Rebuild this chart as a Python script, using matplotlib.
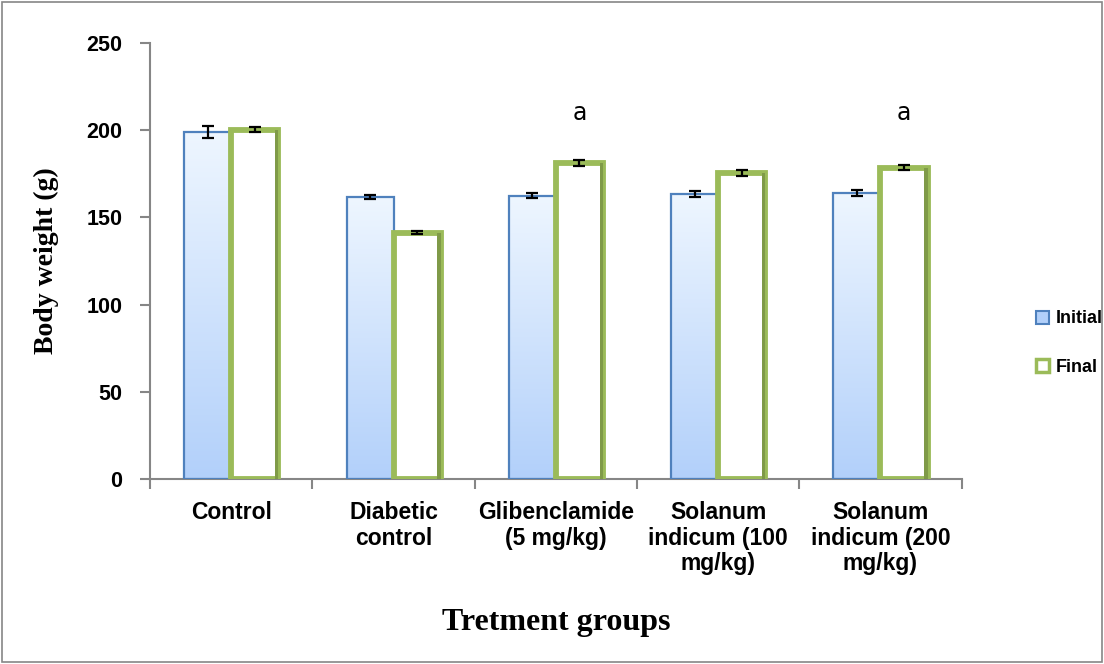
import matplotlib.pyplot as plt
import numpy as np
from matplotlib.patches import Patch, Rectangle
from matplotlib.colors import LinearSegmentedColormap

groups = ["Control", "Diabetic\ncontrol", "Glibenclamide\n(5 mg/kg)",
          "Solanum\nindicum (100\nmg/kg)", "Solanum\nindicum (200\nmg/kg)"]
initial = [199.0, 161.5, 162.5, 163.3, 164.0]
initial_err = [3.3, 1.2, 1.6, 1.6, 2.0]
final = [200.3, 141.3, 181.3, 175.6, 178.6]
final_err = [1.5, 1.0, 1.6, 1.6, 1.6]
sig_marks = ["", "", "a", "", "a"]

tick_font = "Liberation Sans"
label_font = "Liberation Serif"

fig = plt.figure(figsize=(11.04, 6.64), dpi=100)
ax = fig.add_axes([0.136, 0.2786, 0.735, 0.6566])

x = np.arange(len(groups))
w = 0.29

# initial bars: blue with a soft vertical gradient
blue_cmap = LinearSegmentedColormap.from_list("blu", ["#eef6ff", "#b2d0fa"])
bars_i = ax.bar(x - w / 2, initial, w, color="none", edgecolor="#4f81bd",
                linewidth=1.6, zorder=3)
grad = np.linspace(0, 1, 256).reshape(-1, 1)
for rect in bars_i:
    x0, y0 = rect.get_x(), rect.get_y()
    im = ax.imshow(grad, cmap=blue_cmap, aspect="auto", origin="upper",
                   extent=[x0, x0 + rect.get_width(), y0, y0 + rect.get_height()],
                   zorder=2)
    im.set_clip_path(rect)

# final bars: white with a thick green frame
bars_f = ax.bar(x + w / 2, final, w, color="white", edgecolor="#9bbb59",
                linewidth=4.2, zorder=3)
for rect in bars_f:
    # darker right side of the frame
    ax.add_patch(Rectangle((rect.get_x() + rect.get_width() * 0.93, rect.get_y()),
                           rect.get_width() * 0.07, rect.get_height(),
                           color="#7f9a48", zorder=3.5, linewidth=0))

ax.errorbar(x - w / 2, initial, yerr=initial_err, fmt="none", ecolor="black",
            elinewidth=1.6, capsize=4.3, capthick=1.6, zorder=5)
ax.errorbar(x + w / 2, final, yerr=final_err, fmt="none", ecolor="black",
            elinewidth=1.6, capsize=4.3, capthick=1.6, zorder=5)

for xi, m in zip(x, sig_marks):
    if m:
        ax.text(xi + w / 2, 210, m, ha="center", va="center", fontsize=17,
                family="DejaVu Sans", color="black")

ax.set_xlim(-0.5, len(groups) - 0.5)
ax.set_ylim(0, 250)
ax.set_yticks(np.arange(0, 251, 50))

ax.set_xticks(x)
ax.set_xticklabels(groups, fontsize=16.5, fontweight="bold", family=tick_font,
                   linespacing=1.13, va="top")
ax.tick_params(axis="x", which="major", length=0, pad=16)
ax.set_xticks(np.arange(-0.5, len(groups), 1), minor=True)
ax.tick_params(axis="x", which="minor", length=7, width=1.5, color="#868686",
               direction="out")
ax.tick_params(axis="y", length=7, width=1.5, color="#868686", pad=13)
for lbl in ax.get_yticklabels():
    lbl.set_fontsize(15.5)
    lbl.set_fontweight("bold")
    lbl.set_family(tick_font)

for s in ["top", "right"]:
    ax.spines[s].set_visible(False)
for s in ["left", "bottom"]:
    ax.spines[s].set_color("#868686")
    ax.spines[s].set_linewidth(1.5)

ax.set_ylabel("Body weight (g)", fontsize=20, fontweight="bold",
              family=label_font, labelpad=20)
ax.set_xlabel("Tretment groups", fontsize=23, fontweight="bold",
              family=label_font, labelpad=24)

handles = [Patch(facecolor="#b2d0fa", edgecolor="#4f81bd", linewidth=1.5),
           Patch(facecolor="white", edgecolor="#9bbb59", linewidth=2.5)]
fig.legend(handles, ["Initial", "Final"], loc="center left",
           bbox_to_anchor=(0.938, 0.483), frameon=False,
           prop={"family": tick_font, "weight": "bold", "size": 13},
           handlelength=0.75, handleheight=0.75, handletextpad=0.35,
           labelspacing=1.75, borderpad=0, borderaxespad=0)

# outer chart border
fig.add_artist(Rectangle((0.002, 0.003), 0.996, 0.994, transform=fig.transFigure,
                         fill=False, edgecolor="#868686", linewidth=1.2))

fig.savefig("out.png", dpi=100)
